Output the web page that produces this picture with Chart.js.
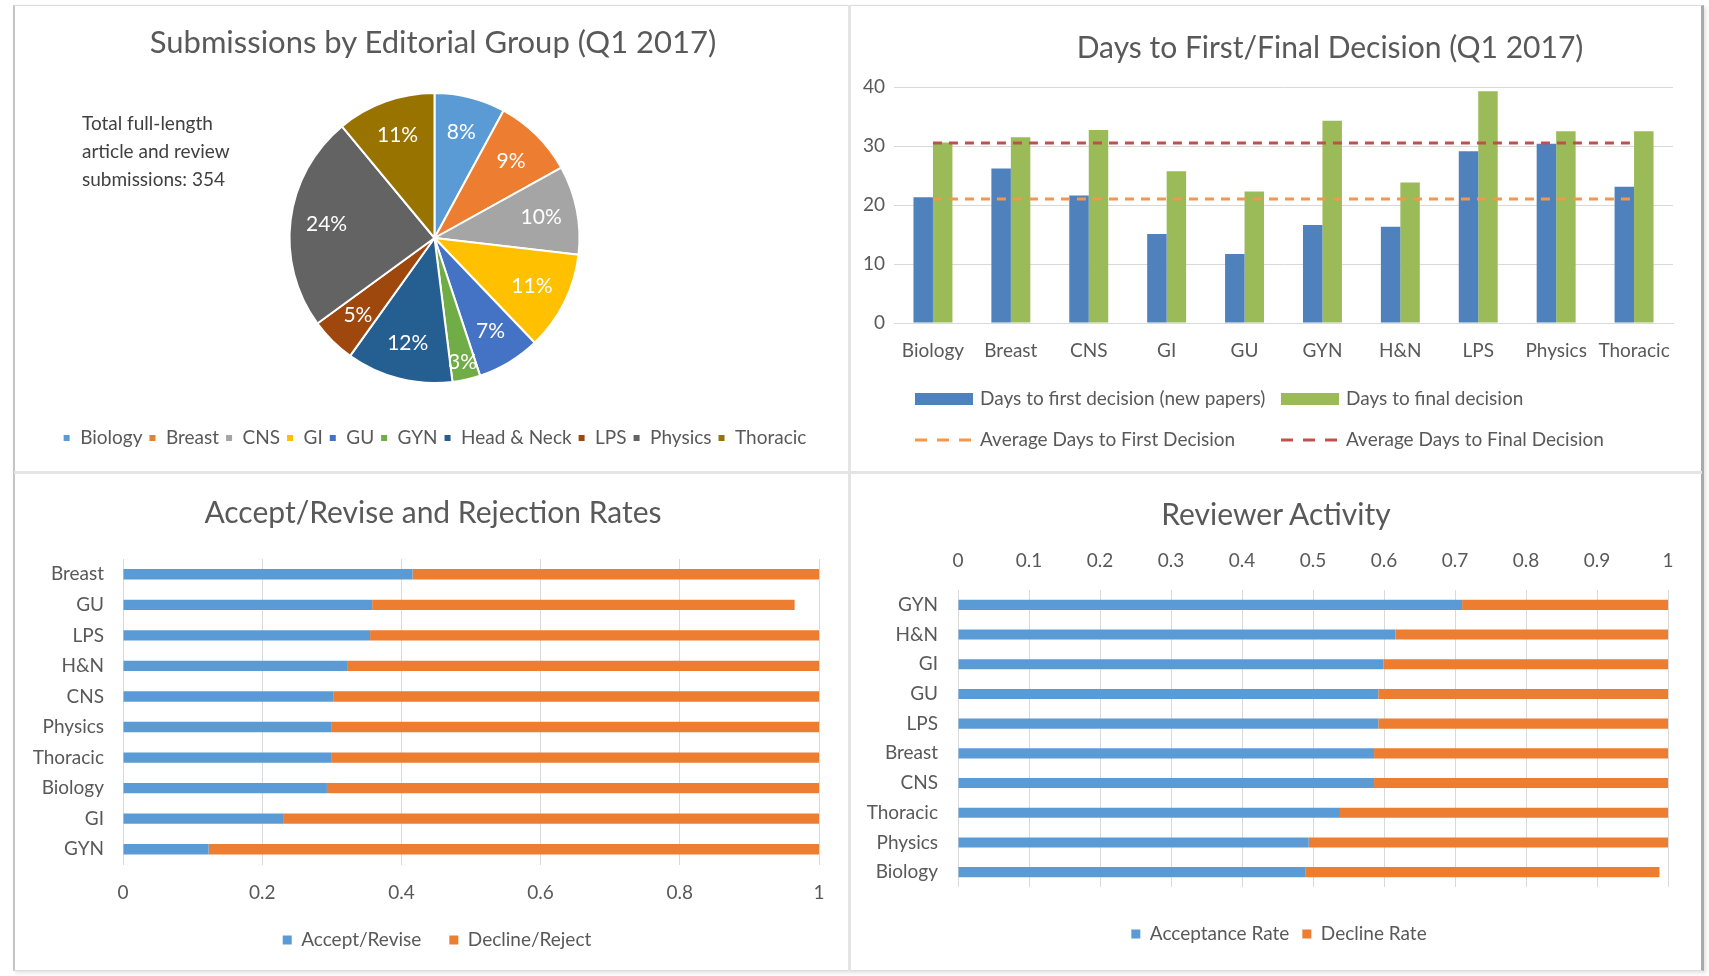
<!DOCTYPE html>
<html>
<head>
<meta charset="utf-8">
<script src="https://cdn.jsdelivr.net/npm/chart.js@4.4.1/dist/chart.umd.min.js"></script>
<style>
  html, body { margin: 0; padding: 0; background: #fff; }
  body { width: 1709px; height: 976px; position: relative; overflow: hidden; font-family: Lato, "Open Sans", sans-serif; color: #595959; }
  .frame { position: absolute; left: 13px; top: 5px; width: 1686px; height: 964px; border: 1px solid #dcdcdc; border-left: 2px solid #c4c4c4; border-right: 3px solid #a9a9a9; box-shadow: 2px 2px 4px rgba(0,0,0,0.12); }
  .vdiv { position: absolute; left: 848px; top: 5px; width: 3px; height: 966px; background: #e4e4e4; }
  .hdiv { position: absolute; left: 14px; top: 471px; width: 1688px; height: 3px; background: #e4e4e4; }
  .title { position: absolute; font-size: 30px; color: #595959; white-space: nowrap; transform: translate(-50%, -50%); }
  .note { position: absolute; left: 82px; top: 109px; font-size: 19px; line-height: 28px; color: #404040; }
  canvas { position: absolute; }
</style>
</head>
<body>
<div class="frame"></div>
<div class="vdiv"></div>
<div class="hdiv"></div>

<canvas id="pie" width="833" height="465" style="left:15px;top:6px"></canvas>
<canvas id="days" width="851" height="465" style="left:850px;top:6px"></canvas>
<canvas id="rates" width="850" height="498" style="left:15px;top:473px"></canvas>
<canvas id="reviewers" width="870" height="498" style="left:852px;top:473px"></canvas>

<div class="title" style="left:433px;top:41px;font-size:31px">Submissions by Editorial Group (Q1 2017)</div>
<div class="title" style="left:1330px;top:46px">Days to First/Final Decision (Q1 2017)</div>
<div class="title" style="left:433px;top:511px">Accept/Revise and Rejection Rates</div>
<div class="title" style="left:1276px;top:513px">Reviewer Activity</div>
<div class="note">Total full-length<br>article and review<br>submissions: 354</div>

<script>
// submissions by group (counts, total 354)
const pieLabels = ['Biology', 'Breast', 'CNS', 'GI', 'GU', 'GYN', 'Head & Neck', 'LPS', 'Physics', 'Thoracic'];
const pieCounts = [28, 32, 35, 39, 25, 11, 42, 18, 85, 39];

// days to decision
const groups = ['Biology', 'Breast', 'CNS', 'GI', 'GU', 'GYN', 'H&N', 'LPS', 'Physics', 'Thoracic'];
const daysFirst = [21.3, 26.2, 21.6, 15.1, 11.7, 16.6, 16.3, 29.1, 30.4, 23.1];
const daysFinal = [30.6, 31.5, 32.7, 25.7, 22.3, 34.3, 23.8, 39.3, 32.5, 32.5];
const avgFirst = [21.0, 21.0, 21.0, 21.0, 21.0, 21.0, 21.0, 21.0, 21.0, 21.0];
const avgFinal = [30.5, 30.5, 30.5, 30.5, 30.5, 30.5, 30.5, 30.5, 30.5, 30.5];

// accept/revise vs decline/reject
const rateGroups = ['Breast', 'GU', 'LPS', 'H&N', 'CNS', 'Physics', 'Thoracic', 'Biology', 'GI', 'GYN'];
const acceptRevise = [0.416, 0.358, 0.355, 0.322, 0.302, 0.299, 0.299, 0.293, 0.230, 0.123];
const declineReject = [0.584, 0.607, 0.645, 0.678, 0.698, 0.701, 0.701, 0.707, 0.770, 0.877];

// reviewer activity
const reviewerGroups = ['GYN', 'H&N', 'GI', 'GU', 'LPS', 'Breast', 'CNS', 'Thoracic', 'Physics', 'Biology'];
const acceptanceRate = [0.710, 0.616, 0.599, 0.592, 0.592, 0.586, 0.586, 0.538, 0.494, 0.489];
const declineRate = [0.290, 0.384, 0.401, 0.408, 0.408, 0.414, 0.414, 0.462, 0.506, 0.499];

const pieColors = ['#5B9BD5', '#ED7D31', '#A5A5A5', '#FFC000', '#4472C4', '#70AD47', '#255E91', '#9E480E', '#636363', '#997300'];
const gridColor = '#d9d9d9';

Chart.defaults.font.family = 'Lato, "Open Sans", sans-serif';
Chart.defaults.font.size = 19;
Chart.defaults.color = '#595959';
Chart.defaults.animation = false;
Chart.defaults.plugins.tooltip.enabled = false;

// 0, 0.2 ... 1 without trailing zeros
const plainTick = v => String(Number(v.toFixed(2)));

// empty axis, only takes room so the legend sits where excel put it
const spacer = size => ({
  grid: { display: false },
  border: { display: false },
  ticks: { display: false },
  afterFit(s) { if (s.isHorizontal()) s.height = size; else s.width = size; }
});

// percent labels inside pie slices
const pctLabels = {
  id: 'pctLabels',
  afterDatasetsDraw(chart) {
    const ctx = chart.ctx;
    const data = chart.data.datasets[0].data;
    const total = data.reduce((a, b) => a + b, 0);
    ctx.save();
    ctx.font = '21px Lato';
    ctx.fillStyle = '#fff';
    ctx.textAlign = 'center';
    ctx.textBaseline = 'middle';
    chart.getDatasetMeta(0).data.forEach((arc, i) => {
      const p = arc.getProps(['x', 'y', 'startAngle', 'endAngle', 'outerRadius'], true);
      const mid = (p.startAngle + p.endAngle) / 2;
      const frac = data[i] / total;
      const r = p.outerRadius * (frac < 0.04 ? 0.88 : 0.75);
      ctx.fillText(Math.round(frac * 100) + '%', p.x + Math.cos(mid) * r, p.y + Math.sin(mid) * r);
    });
    ctx.restore();
  }
};

// two-column legend like the excel one
const columnLegend = {
  id: 'columnLegend',
  afterDraw(chart, args, opts) {
    const ctx = chart.ctx;
    ctx.save();
    ctx.font = '19px Lato';
    ctx.textBaseline = 'middle';
    chart.data.datasets.forEach((ds, i) => {
      const x = opts.cols[i % 2];
      const y = opts.rows[Math.floor(i / 2)];
      if (ds.type === 'line') {
        ctx.strokeStyle = ds.borderColor;
        ctx.lineWidth = 3;
        ctx.setLineDash([12, 10]);
        ctx.beginPath();
        ctx.moveTo(x, y);
        ctx.lineTo(x + 58, y);
        ctx.stroke();
        ctx.setLineDash([]);
      } else {
        ctx.fillStyle = ds.backgroundColor;
        ctx.fillRect(x, y - 6, 58, 12);
      }
      ctx.fillStyle = '#595959';
      ctx.fillText(ds.label, x + 65, y);
    });
    ctx.restore();
  }
};

new Chart(document.getElementById('pie'), {
  type: 'pie',
  data: {
    labels: pieLabels,
    datasets: [{
      data: pieCounts,
      backgroundColor: pieColors,
      borderColor: '#fff',
      borderWidth: 2
    }]
  },
  options: {
    responsive: false,
    radius: 145,
    layout: { padding: { top: 47.5, left: 6, right: 0, bottom: 13.5 } },
    plugins: {
      legend: {
        position: 'bottom',
        labels: { boxWidth: 8, boxHeight: 8, padding: 6 }
      }
    }
  },
  plugins: [pctLabels]
});

new Chart(document.getElementById('days'), {
  type: 'bar',
  data: {
    labels: groups,
    datasets: [
      { label: 'Days to first decision (new papers)', data: daysFirst, backgroundColor: '#4F81BD', order: 1 },
      { label: 'Days to final decision', data: daysFinal, backgroundColor: '#9BBB59', order: 1 },
      { type: 'line', label: 'Average Days to First Decision', data: avgFirst, borderColor: '#F79646', borderWidth: 3, borderDash: [9, 7], pointRadius: 0, order: 0 },
      { type: 'line', label: 'Average Days to Final Decision', data: avgFinal, borderColor: '#C0504D', borderWidth: 3, borderDash: [9, 7], pointRadius: 0, order: 0 }
    ]
  },
  options: {
    responsive: false,
    categoryPercentage: 0.5,
    barPercentage: 1,
    layout: { padding: { top: 81, left: 8, right: 28, bottom: 103 } },
    scales: {
      x: {
        grid: { display: false, drawTicks: false },
        border: { color: gridColor },
        ticks: { padding: 16 },
        afterFit(s) { s.height = 45; }
      },
      y: {
        min: 0, max: 40,
        ticks: { stepSize: 10, padding: 9 },
        grid: { color: gridColor, drawTicks: false },
        border: { display: false },
        afterFit(s) { s.width = 36; }
      }
    },
    plugins: {
      legend: { display: false },
      columnLegend: { cols: [65, 431], rows: [393, 434] }
    }
  },
  plugins: [columnLegend]
});

new Chart(document.getElementById('rates'), {
  type: 'bar',
  data: {
    labels: rateGroups,
    datasets: [
      { label: 'Accept/Revise', data: acceptRevise, backgroundColor: '#5B9BD5' },
      { label: 'Decline/Reject', data: declineReject, backgroundColor: '#ED7D31' }
    ]
  },
  options: {
    responsive: false,
    indexAxis: 'y',
    categoryPercentage: 1,
    barPercentage: 0.34,
    layout: { padding: { top: 86, left: 0, right: 6, bottom: 11.5 } },
    scales: {
      x: {
        stacked: true,
        min: 0, max: 1,
        ticks: { stepSize: 0.2, padding: 17, callback: plainTick },
        grid: { color: gridColor, drawTicks: false },
        border: { display: false },
        afterFit(s) { s.height = 38; }
      },
      y: {
        stacked: true,
        grid: { display: false, drawTicks: false },
        border: { display: false },
        ticks: { padding: 19 },
        afterFit(s) { s.width = 108; }
      },
      yRight: Object.assign({ axis: 'y', position: 'right' }, spacer(40))
    },
    plugins: {
      legend: {
        position: 'bottom',
        labels: { boxWidth: 9, boxHeight: 9, padding: 28 }
      }
    }
  }
});

new Chart(document.getElementById('reviewers'), {
  type: 'bar',
  data: {
    labels: reviewerGroups,
    datasets: [
      { label: 'Acceptance Rate', data: acceptanceRate, backgroundColor: '#5B9BD5' },
      { label: 'Decline Rate', data: declineRate, backgroundColor: '#ED7D31' }
    ]
  },
  options: {
    responsive: false,
    indexAxis: 'y',
    categoryPercentage: 1,
    barPercentage: 0.34,
    layout: { padding: { top: 76, left: 0, right: 16, bottom: 17.5 } },
    scales: {
      x: {
        position: 'top',
        stacked: true,
        min: 0, max: 1,
        ticks: { stepSize: 0.1, padding: 18, callback: plainTick },
        grid: { color: gridColor, drawTicks: false },
        border: { display: false },
        afterFit(s) { s.height = 41; }
      },
      xBottom: Object.assign({ axis: 'x', position: 'bottom' }, spacer(24.5)),
      y: {
        stacked: true,
        grid: { display: false, drawTicks: false },
        border: { display: false },
        ticks: { padding: 20 },
        afterFit(s) { s.width = 106; }
      },
      yRight: Object.assign({ axis: 'y', position: 'right' }, spacer(38))
    },
    plugins: {
      legend: {
        position: 'bottom',
        labels: { boxWidth: 9, boxHeight: 9, padding: 13 }
      }
    }
  }
});
</script>
</body>
</html>
